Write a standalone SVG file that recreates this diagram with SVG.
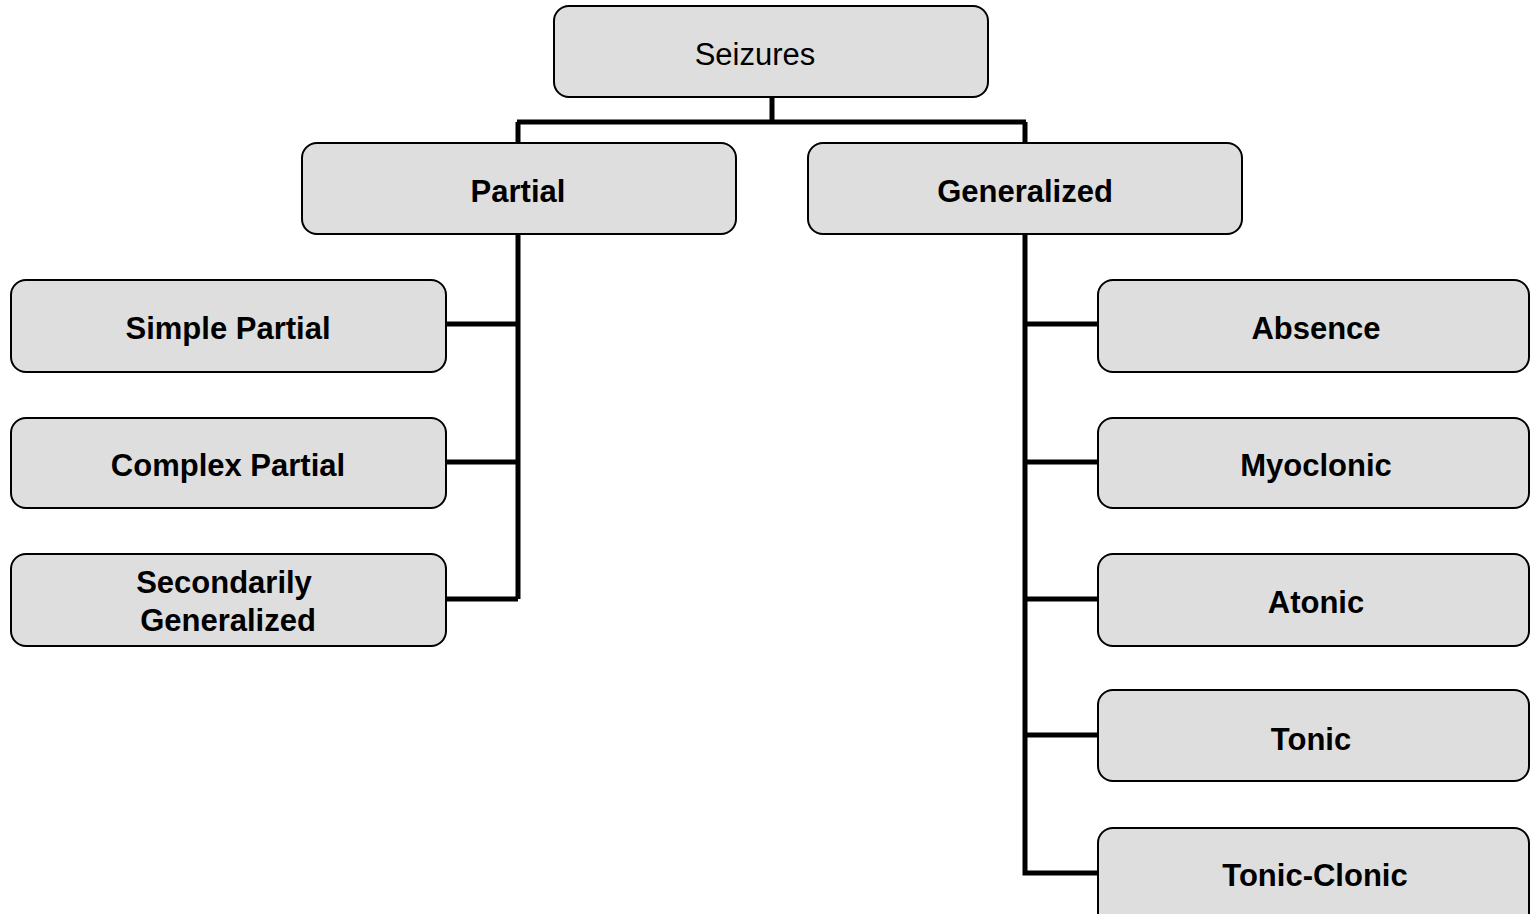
<svg xmlns="http://www.w3.org/2000/svg" width="1530" height="914" viewBox="0 0 1530 914">
<style>
.box{fill:#dedede;stroke:#000;stroke-width:2}
.t{font-family:"Liberation Sans",Arial,sans-serif;font-size:31px;fill:#000;text-anchor:middle}
.b{font-weight:bold}
.c{fill:none;stroke:#000;stroke-width:5}
</style>
<rect width="1530" height="914" fill="#fff"/>
<g id="connectors">
<path class="c" d="M772 97V122M517 122H1026M518 122V143M1025 122V143"/>
<path class="c" d="M518 234V599M446 324H518M446 462H518M446 599H518"/>
<path class="c" d="M1025 234V873H1098M1025 324H1098M1025 462H1098M1025 599H1098M1025 735H1098"/>
</g>
<g id="seizures"><rect class="box" x="554" y="6" width="434" height="91" rx="15"/><text class="t" x="755" y="65">Seizures</text></g>
<g id="partial"><rect class="box" x="302" y="143" width="434" height="91" rx="15"/><text class="t b" x="518" y="202">Partial</text></g>
<g id="generalized"><rect class="box" x="808" y="143" width="434" height="91" rx="15"/><text class="t b" x="1025" y="202">Generalized</text></g>
<g id="simple-partial"><rect class="box" x="11" y="280" width="435" height="92" rx="15"/><text class="t b" x="228" y="339">Simple Partial</text></g>
<g id="complex-partial"><rect class="box" x="11" y="418" width="435" height="90" rx="15"/><text class="t b" x="228" y="476">Complex Partial</text></g>
<g id="secondarily-generalized"><rect class="box" x="11" y="554" width="435" height="92" rx="15"/><text class="t b" x="224" y="593">Secondarily</text><text class="t b" x="228" y="631">Generalized</text></g>
<g id="absence"><rect class="box" x="1098" y="280" width="431" height="92" rx="15"/><text class="t b" x="1316" y="339">Absence</text></g>
<g id="myoclonic"><rect class="box" x="1098" y="418" width="431" height="90" rx="15"/><text class="t b" x="1316" y="476">Myoclonic</text></g>
<g id="atonic"><rect class="box" x="1098" y="554" width="431" height="92" rx="15"/><text class="t b" x="1316" y="613">Atonic</text></g>
<g id="tonic"><rect class="box" x="1098" y="690" width="431" height="91" rx="15"/><text class="t b" x="1311" y="750">Tonic</text></g>
<g id="tonic-clonic"><rect class="box" x="1098" y="828" width="431" height="100" rx="15"/><text class="t b" x="1315" y="886">Tonic-Clonic</text></g>
</svg>
